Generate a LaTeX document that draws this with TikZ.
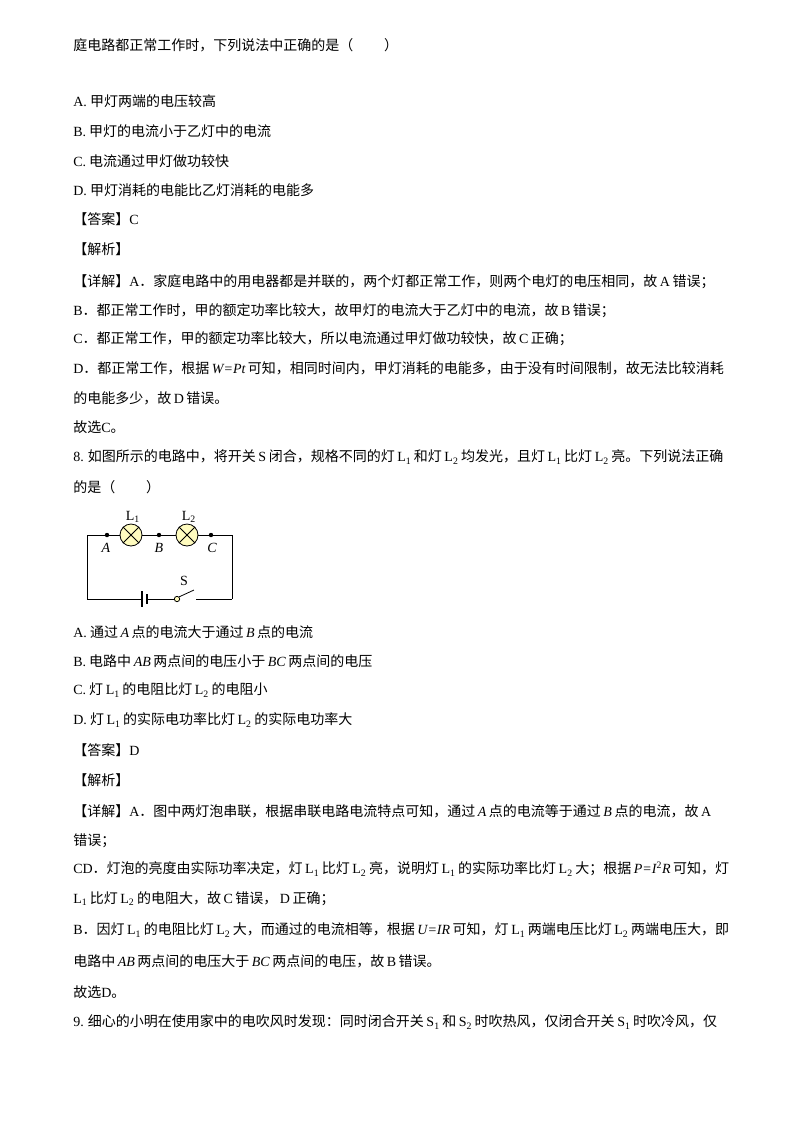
\documentclass[tikz,border=0pt]{standalone}
\usepackage{fontspec}
\setmainfont{Noto Sans CJK SC}
\newfontfamily\lt{Liberation Serif}
\newcommand{\gap}{\hspace{0.18em}}
\newcommand{\la}[1]{\gap{\lt #1}\gap}
\newcommand{\lb}[1]{{\lt #1}}
\newcommand{\li}[1]{\gap{\lt\itshape #1}\gap}
\newcommand{\Lsub}[1]{\gap{\lt L\textsubscript{#1}}\gap}
\begin{document}
\begin{tikzpicture}[x=0.75pt,y=-0.75pt,
  ln/.style={anchor=west,inner sep=0pt,font=\fontsize{10.5pt}{12pt}\selectfont},
  wire/.style={line width=0.6pt},
  lab/.style={inner sep=0pt,font=\lt\fontsize{10.5pt}{12pt}\selectfont}]
\useasboundingbox (0,0) rectangle (800,1132);
\fill[white] (0,0) rectangle (800,1132);
\node[ln] (t1) at (73,45) {庭电路都正常工作时，下列说法中正确的是（\hspace{2.2em}）};
\node[ln] (t2) at (73,101) {\lb{A.} 甲灯两端的电压较高};
\node[ln] (t3) at (73,131) {\lb{B.} 甲灯的电流小于乙灯中的电流};
\node[ln] (t4) at (73,161) {\lb{C.} 电流通过甲灯做功较快};
\node[ln] (t5) at (73,190) {\lb{D.} 甲灯消耗的电能比乙灯消耗的电能多};
\node[ln] (t6) at (73,219) {【答案】\lb{C}};
\node[ln] (t7) at (73,249) {【解析】};
\node[ln] (t8) at (73,282) {【详解】\lb{A}．家庭电路中的用电器都是并联的，两个灯都正常工作，则两个电灯的电压相同，故\la{A}错误；};
\node[ln] (t9) at (73,311) {\lb{B}．都正常工作时，甲的额定功率比较大，故甲灯的电流大于乙灯中的电流，故\la{B}错误；};
\node[ln] (t10) at (73,339) {\lb{C}．都正常工作，甲的额定功率比较大，所以电流通过甲灯做功较快，故\la{C}正确；};
\node[ln] (t11) at (73,368) {\lb{D}．都正常工作，根据\li{W=Pt}可知，相同时间内，甲灯消耗的电能多，由于没有时间限制，故无法比较消耗};
\node[ln] (t12) at (73,398) {的电能多少，故\la{D}错误。};
\node[ln] (t13) at (73,427) {故选\lb{C}。};
\node[ln] (t14) at (73,457) {\lb{8.} 如图所示的电路中，将开关\la{S}闭合，规格不同的灯\Lsub{1}和灯\Lsub{2}均发光，且灯\Lsub{1}比灯\Lsub{2}亮。下列说法正确};
\node[ln] (t15) at (73,487) {的是（\hspace{2.2em}）};
% circuit
\coordinate (tl) at (87,535); \coordinate (tr) at (232,535);
\coordinate (bl) at (87,599); \coordinate (br) at (232,599);
\coordinate (A) at (107,535); \coordinate (B) at (159,535); \coordinate (C) at (211,535);
\node[circle,draw,wire,fill=yellow!25,minimum size=16.5pt,inner sep=0pt] (L1) at (131,535) {};
\node[circle,draw,wire,fill=yellow!25,minimum size=16.5pt,inner sep=0pt] (L2) at (187,535) {};
\draw[wire] (L1.north west)--(L1.south east) (L1.north east)--(L1.south west);
\draw[wire] (L2.north west)--(L2.south east) (L2.north east)--(L2.south west);
\draw[wire] (L1.west)--(tl)--(bl);
\draw[wire] (L1.east)--(L2.west);
\draw[wire] (L2.east)--(tr)--(br);
\foreach \p in {A,B,C}\fill (\p) circle (2.2);
\node[lab] (nL1) at (133,517) {L\textsubscript{1}};
\node[lab] (nL2) at (189,517) {L\textsubscript{2}};
\node[lab,font=\lt\itshape\fontsize{10.5pt}{12pt}\selectfont] (nA) at (106,548) {A};
\node[lab,font=\lt\itshape\fontsize{10.5pt}{12pt}\selectfont] (nB) at (159,548) {B};
\node[lab,font=\lt\itshape\fontsize{10.5pt}{12pt}\selectfont] (nC) at (212,548) {C};
\coordinate (bp1) at (142,599); \coordinate (bp2) at (147,599);
\draw[wire] (bl)--(bp1);
\draw[line width=0.8pt] (142,591)--(142,607);
\draw[line width=1.6pt] (147,594)--(147,604);
\node[circle,draw,wire,fill=yellow!25,minimum size=4pt,inner sep=0pt] (sw) at (177,599) {};
\draw[wire] (bp2)--(sw.west);
\coordinate (swe) at (194,590);
\draw[wire] (sw.north east)--(swe);
\coordinate (swr) at (196,599);
\draw[wire] (swr)--(br);
\node[lab] (nS) at (184,581) {S};
% after
\node[ln] (u1) at (73,632) {\lb{A.} 通过\li{A}点的电流大于通过\li{B}点的电流};
\node[ln] (u2) at (73,661) {\lb{B.} 电路中\li{AB}两点间的电压小于\li{BC}两点间的电压};
\node[ln] (u3) at (73,690) {\lb{C.} 灯\Lsub{1}的电阻比灯\Lsub{2}的电阻小};
\node[ln] (u4) at (73,720) {\lb{D.} 灯\Lsub{1}的实际电功率比灯\Lsub{2}的实际电功率大};
\node[ln] (u5) at (73,750) {【答案】\lb{D}};
\node[ln] (u6) at (73,780) {【解析】};
\node[ln] (u7) at (73,811) {【详解】\lb{A}．图中两灯泡串联，根据串联电路电流特点可知，通过\li{A}点的电流等于通过\li{B}点的电流，故\la{A}};
\node[ln] (u8) at (73,841) {错误；};
\node[ln] (u9) at (73,869) {\lb{CD}．灯泡的亮度由实际功率决定，灯\Lsub{1}比灯\Lsub{2}亮，说明灯\Lsub{1}的实际功率比灯\Lsub{2}大；根据\gap{\lt\itshape P=I\textsuperscript{\upshape 2}R}\gap 可知，灯};
\node[ln] (u10) at (73,899) {\lb{L\textsubscript{1}}\gap 比灯\Lsub{2}的电阻大，故\la{C}错误，\la{D}正确；};
\node[ln] (u11) at (73,930) {\lb{B}．因灯\Lsub{1}的电阻比灯\Lsub{2}大，而通过的电流相等，根据\li{U=IR}可知，灯\Lsub{1}两端电压比灯\Lsub{2}两端电压大，即};
\node[ln] (u12) at (73,961) {电路中\li{AB}两点间的电压大于\li{BC}两点间的电压，故\la{B}错误。};
\node[ln] (u13) at (73,992) {故选\lb{D}。};
\node[ln] (u14) at (73,1022) {\lb{9.} 细心的小明在使用家中的电吹风时发现：同时闭合开关\la{S\textsubscript{1}}和\la{S\textsubscript{2}}时吹热风，仅闭合开关\la{S\textsubscript{1}}时吹冷风，仅};
\end{tikzpicture}
\end{document}
